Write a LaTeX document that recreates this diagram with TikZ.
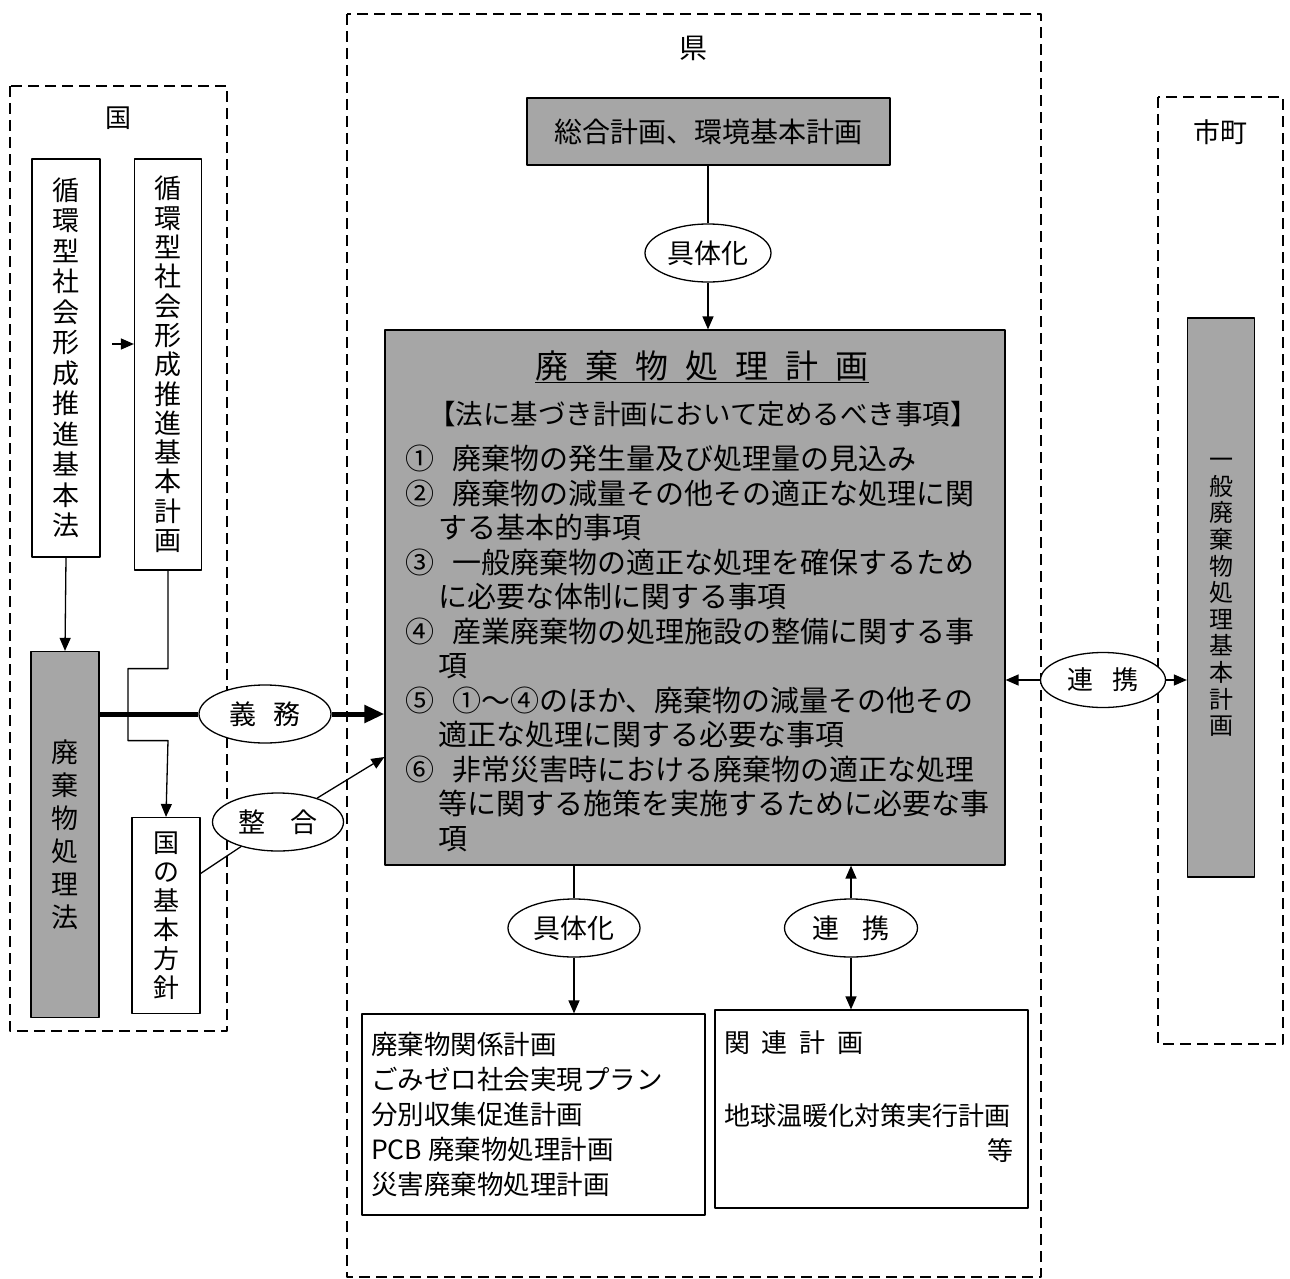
\documentclass[tikz,border=0pt]{standalone}
\usepackage{fontspec}
\setmainfont{Noto Sans CJK JP}
\usetikzlibrary{arrows.meta,shapes.geometric}

\tikzset{
  frame/.style={line width=1.4pt, dash pattern=on 11pt off 6pt},
  graybox/.style={draw, fill=black!35, line width=1.2pt, inner sep=0pt},
  whitebox/.style={draw, fill=white, line width=1.2pt, inner sep=0pt},
  oval/.style={draw, ellipse, fill=white, line width=1.3pt, inner sep=0pt,
    minimum width=126pt, minimum height=58pt, font=\fontsize{27}{27}\selectfont},
  conn/.style={line width=1.3pt},
  heavy/.style={line width=5pt, -{Triangle[length=20pt,width=17pt]}},
}

\begin{document}
\begin{tikzpicture}[x=1pt,y=-1pt,line join=round,>={Triangle[length=13pt,width=11pt]}]
    \useasboundingbox (0,0) rectangle (1290,1279);
    % frames
    \draw[frame] (10,86) rectangle (227,1031);
    \draw[frame] (347,14) rectangle (1041,1277);
    \draw[frame] (1158,97) rectangle (1283,1044);
    \node[font=\fontsize{26}{26}\selectfont] (kuni) at (118,118) {国};
    \node[font=\fontsize{28}{28}\selectfont] (ken) at (693,48) {県};
    \node[font=\fontsize{27}{27}\selectfont] (shicho) at (1220,132) {市町};

    % kuni
    \node[whitebox, minimum width=68pt, minimum height=398pt, align=center,
      font=\fontsize{27}{30.5}\selectfont] (kihonho) at (66,358)
      {循\\環\\型\\社\\会\\形\\成\\推\\進\\基\\本\\法};
    \node[whitebox, minimum width=67pt, minimum height=411pt, align=center,
      font=\fontsize{27}{29.3}\selectfont] (kihonkeikaku) at (168,364.5)
      {循\\環\\型\\社\\会\\形\\成\\推\\進\\基\\本\\計\\画};
    \node[graybox, minimum width=68pt, minimum height=366pt, align=center,
      font=\fontsize{27}{33}\selectfont] (shoriho) at (65,834.5)
      {廃\\棄\\物\\処\\理\\法};
    \node[whitebox, minimum width=68pt, minimum height=196pt, align=center,
      font=\fontsize{26}{29}\selectfont] (hoshin) at (166,915.5)
      {国\\の\\基\\本\\方\\針};

    % ken
    \node[graybox, minimum width=363pt, minimum height=67pt,
      font=\fontsize{28}{28}\selectfont] (sogo) at (708.5,131.5) {総合計画、環境基本計画};
    \node[oval] (gutai1) at (708,253) {具体化};
    \node[graybox, minimum width=620pt, minimum height=535pt] (plan) at (695,597.5) {};
    \node[font=\fontsize{33}{33}\selectfont] (title) at (702,367)
      {\underline{廃\hspace{.52em}棄\hspace{.52em}物\hspace{.52em}処\hspace{.52em}理\hspace{.52em}計\hspace{.52em}画}};
    \node[inner sep=0pt, font=\fontsize{27.5}{27.5}\selectfont] (jiko) at (703,414)
      {【法に基づき計画において定めるべき事項】};
    \node[anchor=north west, align=left, inner sep=0pt,
      font=\fontsize{29}{34.5}\selectfont] (items) at (405,445)
      {①\hspace{.62em}廃棄物の発生量及び処理量の見込み\\
       ②\hspace{.62em}廃棄物の減量その他その適正な処理に関\\
       \hspace*{1.14em}する基本的事項\\
       ③\hspace{.62em}一般廃棄物の適正な処理を確保するため\\
       \hspace*{1.14em}に必要な体制に関する事項\\
       ④\hspace{.62em}産業廃棄物の処理施設の整備に関する事\\
       \hspace*{1.14em}項\\
       ⑤\hspace{.62em}①～④のほか、廃棄物の減量その他その\\
       \hspace*{1.14em}適正な処理に関する必要な事項\\
       ⑥\hspace{.62em}非常災害時における廃棄物の適正な処理\\
       \hspace*{1.14em}等に関する施策を実施するために必要な事\\
       \hspace*{1.14em}項};

    \node[oval, minimum width=132pt] (gimu) at (265,714) {義\hspace{.6em}務};
    \node[oval, minimum width=131pt] (seigo) at (278,822) {整\hspace{.9em}合};
    \node[oval, minimum width=132pt] (gutai2) at (574,928) {具体化};
    \node[oval, minimum width=133pt] (renkei1) at (851,928) {連\hspace{.85em}携};
    \node[oval, minimum width=125pt, minimum height=55pt,
      font=\fontsize{26}{26}\selectfont] (renkei2) at (1103,680) {連\hspace{.7em}携};

    \node[whitebox, minimum width=343pt, minimum height=201pt] (kankei) at (533.5,1114.5) {};
    \node[anchor=north west, align=left, inner sep=0pt,
      font=\fontsize{26.5}{35}\selectfont] (kankeitext) at (371,1032)
      {廃棄物関係計画\\ごみゼロ社会実現プラン\\分別収集促進計画\\PCB 廃棄物処理計画\\災害廃棄物処理計画};
    \node[whitebox, minimum width=313pt, minimum height=198pt] (kanren) at (871.5,1109) {};
    \node[anchor=west, inner sep=0pt, font=\fontsize{26}{26}\selectfont] (kanrenhead) at (724,1043)
      {関\hspace{.45em}連\hspace{.45em}計\hspace{.45em}画};
    \node[anchor=west, inner sep=0pt, font=\fontsize{26}{26}\selectfont] (ondanka) at (724,1116)
      {地球温暖化対策実行計画};
    \node[anchor=east, inner sep=0pt, font=\fontsize{26}{26}\selectfont] (nado) at (1014,1151) {等};

    % shicho
    \node[graybox, minimum width=67pt, minimum height=559pt, align=center,
      font=\fontsize{24}{26.6}\selectfont] (ippan) at (1221,597.5)
      {一\\般\\廃\\棄\\物\\処\\理\\基\\本\\計\\画};

    % connectors
    \coordinate (ab) at (112,344);
    \draw[conn,->] (ab) -- (ab -| kihonkeikaku.west);
    \draw[conn,->] (kihonho.south) -- (shoriho.north);
    \draw[conn,->] (kihonkeikaku.south) -- ++(0,98) -- ++(-40,0) -- ++(0,72) -- ++(40,0) -- (hoshin.north);
    \draw[line width=5pt] (gimu.west -| shoriho.east) -- (gimu.west);
    \coordinate (gimuend) at (gimu.east -| plan.west);
    \draw[heavy] (gimu.east) -- (gimuend);
    \coordinate (seigostart) at ([yshift=42pt]hoshin.east);
    \coordinate (seigoend) at (plan.west |- 0,757);
    \draw[conn] (seigostart) -- (seigo);
    \draw[conn,->] (seigo) -- (seigoend);
    \draw[conn] (sogo.south -| gutai1) -- (gutai1.north);
    \draw[conn,->] (gutai1.south) -- (gutai1.south |- plan.north);
    \draw[conn] (gutai2.north |- plan.south) -- (gutai2.north);
    \draw[conn,->] (gutai2.south) -- (gutai2.south |- kankei.north);
    \draw[conn,->] (renkei1.north) -- (renkei1.north |- plan.south);
    \draw[conn,->] (renkei1.south) -- (renkei1.south |- kanren.north);
    \draw[conn,->] (renkei2.west) -- (renkei2.west -| plan.east);
    \draw[conn,->] (renkei2.east) -- (renkei2.east -| ippan.west);
\end{tikzpicture}
\end{document}
